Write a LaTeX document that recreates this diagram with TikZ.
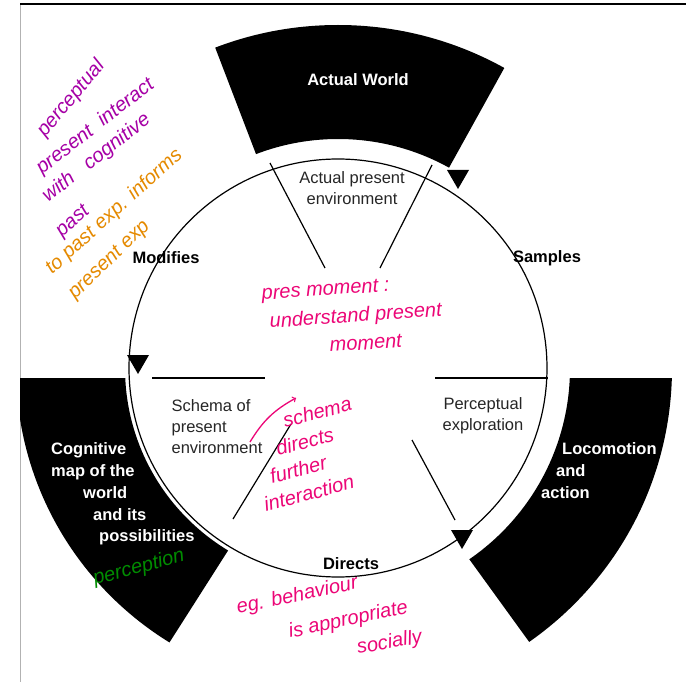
\documentclass[tikz,border=0pt]{standalone}
\usepackage{fontspec}
\setmainfont{Liberation Sans}
\begin{document}
\begin{tikzpicture}[x=1pt,y=-1pt,
  lbl/.style={font=\fontsize{16.5}{21}\selectfont,align=center,inner sep=1pt,text=black!85},
  blbl/.style={lbl,font=\fontsize{16.5}{21}\selectfont\bfseries,text=black},
  wlbl/.style={blbl,text=white,anchor=west},
  spoke/.style={line width=1.2pt},
  hand/.style={font=\fontsize{20}{24}\selectfont\itshape,align=left,inner sep=0pt,anchor=base west}]
\useasboundingbox (0,0) rectangle (686,682);
\fill[white] (0,0) rectangle (686,682);
\draw[line width=1pt,gray!60] (20,4) -- (20,682);
\draw[line width=1.5pt] (20,4) -- (686,4);
\coordinate (c) at (338,368);
% top sector
\begin{scope}\clip (c) -- (338-600*0.358,368-600*0.934) -- (338+600*0.485,368-600*0.875) -- cycle;
\fill[even odd rule] (c) circle (343) (c) circle (229);\end{scope}
% left sector
\begin{scope}\clip (20,378) rectangle (338,700);
\clip (338,378) -- (-300,378) -- (-300,900) -- (20,877) -- cycle;
\fill[even odd rule] (c) circle (322) (c) circle (213);\end{scope}
% right sector
\begin{scope}\clip (338,378) -- (1000,378) -- (1000,900) -- (685,857) -- cycle;
\fill[even odd rule] (c) circle (334) (c) circle (232);\end{scope}
\draw[line width=1.2pt] (c) circle (209);
\draw[spoke] (270,163) -- (325,268);
\draw[spoke] (432,165) -- (380,268);
\draw[spoke] (152,378) -- (265,378);
\draw[spoke] (435,378) -- (548,378);
\draw[spoke] (291,424) -- (233,519);
\draw[spoke] (412,440) -- (455,520);
\fill (447,170) -- (469,170) -- (458,189) -- cycle;
\fill (127,355) -- (149,355) -- (138,374) -- cycle;
\fill (451,530) -- (473,530) -- (462,549) -- cycle;
\node[wlbl,anchor=center] (aw) at (358,80) {Actual World};
\node[wlbl] (cm1) at (50,450) {Cognitive};
\node[wlbl] (cm2) at (50,472) {map of the};
\node[wlbl] (cm3) at (82,493) {world};
\node[wlbl] (cm4) at (92,515) {and its};
\node[wlbl] (cm5) at (98,537) {possibilities};
\node[wlbl] (la1) at (561,449) {Locomotion};
\node[wlbl] (la2) at (555,471) {and};
\node[wlbl] (la3) at (540,493) {action};
\node[lbl] (ape) at (352,188) {Actual present\\environment};
\node[lbl,align=left] (sch) at (217,427) {Schema of\\present\\environment};
\node[lbl] (pe) at (483,416) {Perceptual\\exploration};
\node[blbl] (mod) at (166,258) {Modifies};
\node[blbl] (sam) at (547,258) {Samples};
\node[blbl] (dir) at (351,564) {Directs};
\node[hand,text=violet!70!magenta,rotate=50] at (45,138) {perceptual};
\node[hand,text=violet!70!magenta,rotate=38] at (42,175) {present\ \ interact};
\node[hand,text=violet!70!magenta,rotate=38] at (48,203) {with\ \ \ cognitive};
\node[hand,text=violet!70!magenta,rotate=42] at (62,238) {past};
\node[hand,text=orange!80!yellow!90!black,rotate=42] at (52,275) {to past exp. informs};
\node[hand,text=orange!80!yellow!90!black,rotate=44] at (75,300) {present exp};
\node[hand,text=magenta!80!red,rotate=4] at (262,300) {pres moment :};
\node[hand,text=magenta!80!red,rotate=4] at (270,328) {understand present};
\node[hand,text=magenta!80!red,rotate=4] at (330,352) {moment};
\node[hand,text=magenta!80!red,rotate=15] at (285,428) {schema};
\node[hand,text=magenta!80!red,rotate=15] at (278,456) {directs};
\node[hand,text=magenta!80!red,rotate=15] at (272,484) {further};
\node[hand,text=magenta!80!red,rotate=15] at (266,512) {interaction};
\draw[->,magenta!80!red,line width=1.3pt] (250,442) to[bend left=15] (296,398);
\node[hand,text=magenta!80!red,rotate=12] at (238,614) {eg. behaviour};
\node[hand,text=magenta!80!red,rotate=12] at (290,638) {is appropriate};
\node[hand,text=magenta!80!red,rotate=10] at (358,654) {socially};
\node[hand,text=green!55!black,rotate=15] at (95,585) {perception};
\end{tikzpicture}
\end{document}
